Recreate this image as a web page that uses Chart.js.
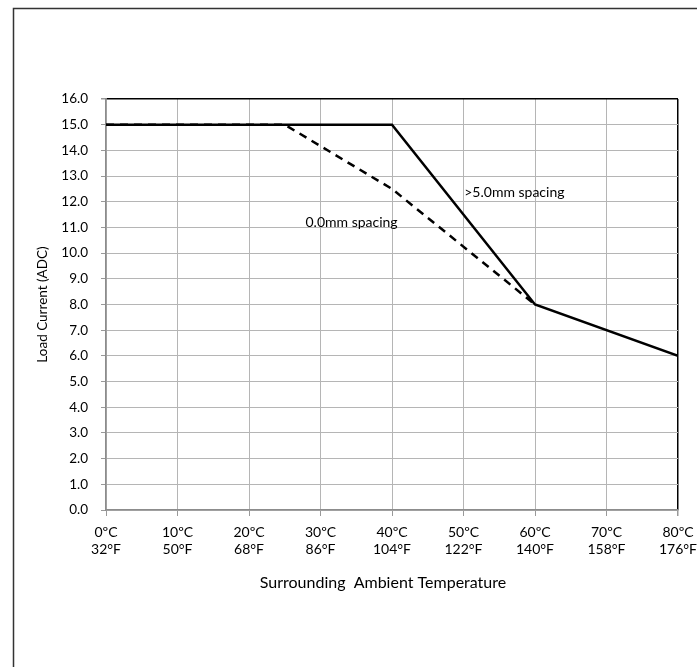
<!DOCTYPE html>
<html>
<head>
<meta charset="utf-8">
<script src="https://cdn.jsdelivr.net/npm/chart.js@4/dist/chart.umd.min.js"></script>
<style>
  html, body { margin: 0; padding: 0; background: #fff; }
  #chart { display: block; }
</style>
</head>
<body>
<canvas id="chart" width="697" height="667"></canvas>
<script>
// Temperature axis (°C with matching °F)
const tempC = [0, 10, 20, 30, 40, 50, 60, 70, 80];
const tempF = [32, 50, 68, 86, 104, 122, 140, 158, 176];

// Derating curves
const wideX = [0, 40, 60, 80];
const wideY = [15, 15, 8, 6];
const closeX = [0, 25, 40, 60];
const closeY = [15, 15, 12.5, 8];

// Y ticks
const currentTicks = [0, 1, 2, 3, 4, 5, 6, 7, 8, 9, 10, 11, 12, 13, 14, 15, 16];

const FONT = "Lato, 'Open Sans', sans-serif";

function toPoints(xs, ys) {
  return xs.map((x, i) => ({ x: x, y: ys[i] }));
}

// Frame, axis titles and curve labels
const decorPlugin = {
  id: "decor",
  beforeDraw(chart) {
    const ctx = chart.ctx;
    ctx.save();
    ctx.fillStyle = "#fff";
    ctx.fillRect(0, 0, chart.width, chart.height);
    ctx.strokeStyle = "#333";
    ctx.lineWidth = 1.5;
    ctx.strokeRect(13.5, 8.5, 800, 800);
    ctx.restore();
  },
  afterDraw(chart) {
    const ctx = chart.ctx;
    const xs = chart.scales.x;
    const ys = chart.scales.y;
    ctx.save();
    ctx.fillStyle = "#000";

    // x title
    ctx.font = "16px " + FONT;
    ctx.textAlign = "center";
    ctx.textBaseline = "middle";
    ctx.fillText("Surrounding  Ambient Temperature", 383, 583);

    // y title
    ctx.translate(43, (chart.chartArea.top + chart.chartArea.bottom) / 2);
    ctx.rotate(-Math.PI / 2);
    ctx.font = "13.5px " + FONT;
    ctx.fillText("Load Current (ADC)", 0, 0);
    ctx.restore();

    // curve labels
    ctx.save();
    ctx.fillStyle = "#000";
    ctx.font = "14px " + FONT;
    ctx.textAlign = "left";
    ctx.textBaseline = "middle";
    ctx.fillText("0.0mm spacing", xs.getPixelForValue(27.9), ys.getPixelForValue(11.2));
    ctx.fillText(">5.0mm spacing", xs.getPixelForValue(50.1), ys.getPixelForValue(12.35));
    ctx.restore();
  }
};

new Chart(document.getElementById("chart"), {
  type: "scatter",
  data: {
    datasets: [
      {
        label: ">5.0mm spacing",
        data: toPoints(wideX, wideY),
        showLine: true,
        borderColor: "#000",
        borderWidth: 2.5,
        pointRadius: 0,
        tension: 0
      },
      {
        label: "0.0mm spacing",
        data: toPoints(closeX, closeY),
        showLine: true,
        borderColor: "#000",
        borderWidth: 2.5,
        borderDash: [8, 6],
        pointRadius: 0,
        tension: 0
      }
    ]
  },
  options: {
    responsive: false,
    animation: false,
    layout: { padding: { top: 99, right: 19, left: 0, bottom: 0 } },
    plugins: {
      legend: { display: false },
      tooltip: { enabled: false }
    },
    scales: {
      x: {
        type: "linear",
        min: 0,
        max: 80,
        afterFit(scale) {
          scale.height = 157;
          scale.paddingLeft = 0;
          scale.paddingRight = 0;
        },
        afterBuildTicks(scale) { scale.ticks = tempC.map(v => ({ value: v })); },
        grid: {
          color: ctx => (ctx.tick && ctx.tick.value === 80 ? "#000" : "#b5b5b5"),
          tickColor: "#999",
          tickLength: 6,
          lineWidth: ctx => (ctx.tick && ctx.tick.value === 80 ? 1.5 : 1)
        },
        border: { color: "#8c8c8c", width: 1.5 },
        ticks: {
          color: "#000",
          padding: 8,
          maxRotation: 0,
          autoSkip: false,
          font: { family: FONT, size: 14, lineHeight: 1.2 },
          callback: (v) => {
            const i = tempC.indexOf(v);
            return [v + "ºC", tempF[i] + "°F"];
          }
        }
      },
      y: {
        min: 0,
        max: 16,
        afterFit(scale) {
          scale.width = 106;
          scale.paddingTop = 0;
          scale.paddingBottom = 0;
        },
        afterBuildTicks(scale) { scale.ticks = currentTicks.map(v => ({ value: v })); },
        grid: {
          color: ctx => (ctx.tick && ctx.tick.value === 16 ? "#000" : "#b5b5b5"),
          tickColor: "#999",
          tickLength: 5,
          lineWidth: ctx => (ctx.tick && ctx.tick.value === 16 ? 1.5 : 1)
        },
        border: { color: "#8c8c8c", width: 1.5 },
        ticks: {
          color: "#000",
          padding: 13,
          font: { family: FONT, size: 13.5 },
          callback: v => v.toFixed(1)
        }
      }
    }
  },
  plugins: [decorPlugin]
});
</script>
</body>
</html>
